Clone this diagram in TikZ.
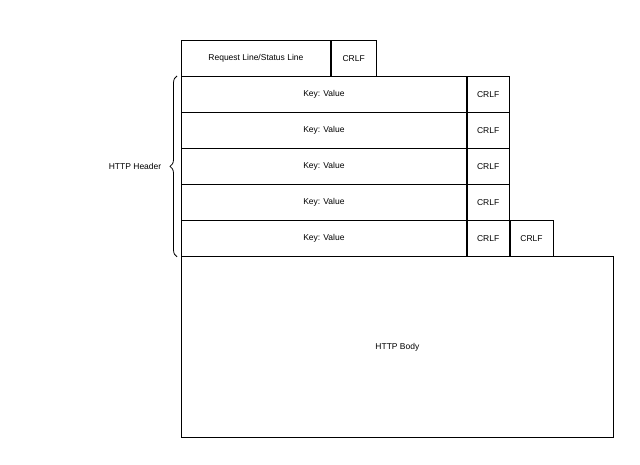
\documentclass[tikz,border=0pt]{standalone}
\usepackage{fontspec}
\setmainfont{Liberation Sans}
\usetikzlibrary{positioning,decorations.pathreplacing}

\begin{document}
\begin{tikzpicture}[
    x=1pt, y=1pt,
    cell/.style={rectangle, draw, line width=0.8pt, minimum height=36pt, inner sep=0pt, font=\fontsize{8.5}{10}\selectfont, anchor=north west},
    brace/.style={decorate, decoration={brace, amplitude=7pt}, line width=0.8pt}
]
    \useasboundingbox (0,0) rectangle (640,464);
    % start line
    \node[cell, minimum width=149pt] (start) at (181,424) {Request Line/Status Line};
    \node[cell, minimum width=45pt] (startcrlf) at (start.north east) {CRLF};
    % header lines
    \foreach \i in {1,...,5} {
        \node[cell, minimum width=285pt] (kv\i) at (181,424-36*\i) {Key: Value};
        \node[cell, minimum width=42pt] (crlf\i) at (kv\i.north east) {CRLF};
    }
    \node[cell, minimum width=43pt] (endcrlf) at (crlf5.north east) {CRLF};
    % body
    \node[cell, minimum width=432pt, minimum height=181pt] (body) at (181,208) {HTTP Body};
    % brace
    \draw[brace] ([xshift=-4pt]kv5.south west) -- ([xshift=-4pt]kv1.north west)
        node[midway, left=12pt, font=\fontsize{8.5}{10}\selectfont] (header) {HTTP Header};
\end{tikzpicture}
\end{document}
